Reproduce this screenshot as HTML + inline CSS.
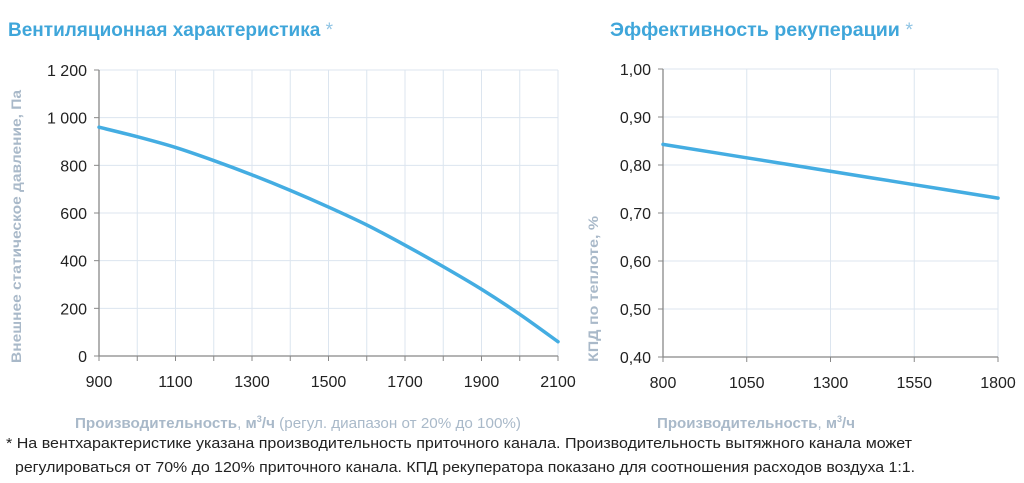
<!DOCTYPE html>
<html><head><meta charset="utf-8"><style>
html,body{margin:0;padding:0;background:#fff;width:1024px;height:483px;overflow:hidden}
svg{display:block;font-family:"Liberation Sans",sans-serif}
</style></head><body>
<svg id="s" width="1024" height="483" viewBox="0 0 1024 483">
<text x="8" y="36" font-size="19" font-weight="bold" fill="#3fa6da" textLength="325" lengthAdjust="spacingAndGlyphs">Вентиляционная характеристика <tspan font-weight="normal" fill="#8fc4e4">*</tspan></text>
<text x="610" y="36" font-size="19" font-weight="bold" fill="#3fa6da" textLength="303" lengthAdjust="spacingAndGlyphs">Эффективность рекуперации <tspan font-weight="normal" fill="#8fc4e4">*</tspan></text>
<g id="left"></g>
<g id="right"></g>
<text transform="translate(21,363) rotate(-90)" font-size="14" font-weight="bold" fill="#a9b9c9" textLength="273" lengthAdjust="spacingAndGlyphs">Внешнее статическое давление, Па</text>
<text transform="translate(598,362) rotate(-90)" font-size="14" font-weight="bold" fill="#a9b9c9" textLength="146" lengthAdjust="spacingAndGlyphs">КПД по теплоте, %</text>
<text x="75" y="428" font-size="15" fill="#a9b9c9" textLength="446" lengthAdjust="spacingAndGlyphs"><tspan font-weight="bold">Производительность</tspan>, <tspan font-weight="bold">м<tspan dy="-6" font-size="9">3</tspan><tspan dy="6">/ч</tspan></tspan> (регул. диапазон от 20% до 100%)</text>
<text x="657" y="428" font-size="15" fill="#a9b9c9" textLength="198" lengthAdjust="spacingAndGlyphs"><tspan font-weight="bold">Производительность</tspan>, <tspan font-weight="bold">м<tspan dy="-6" font-size="9">3</tspan><tspan dy="6">/ч</tspan></tspan></text>
<text x="6" y="448" font-size="14.5" fill="#222" textLength="906" lengthAdjust="spacingAndGlyphs">* На вентхарактеристике указана производительность приточного канала. Производительность вытяжного канала может</text>
<text x="15" y="472" font-size="14.5" fill="#222" textLength="900" lengthAdjust="spacingAndGlyphs">регулироваться от 70% до 120% приточного канала. КПД рекуператора показано для соотношения расходов воздуха 1:1.</text>
</svg>
<script>
const leftX=[900,1000,1100,1200,1300,1400,1500,1600,1700,1800,1900,2000,2100];
const leftY=[960,920,875,820,760,695,625,550,465,375,280,175,60];
const leftXTicks=[900,1100,1300,1500,1700,1900,2100];
const leftYTicks=[0,200,400,600,800,1000,1200];
const leftYLabels=["0","200","400","600","800","1 000","1 200"];
const rightX=[800,1050,1300,1550,1800];
const rightY=[0.843,0.815,0.787,0.759,0.731];
const rightXTicks=[800,1050,1300,1550,1800];
const rightYTicks=[0.4,0.5,0.6,0.7,0.8,0.9,1.0];
const rightYLabels=["0,40","0,50","0,60","0,70","0,80","0,90","1,00"];
const NS="http://www.w3.org/2000/svg";
function mk(p,t,a){const e=document.createElementNS(NS,t);for(const k in a)e.setAttribute(k,a[k]);p.appendChild(e);return e;}
function chart(g,o){
 const sx=v=>o.x0+(v-o.xmin)/(o.xmax-o.xmin)*(o.x1-o.x0);
 const sy=v=>o.y0-(v-o.ymin)/(o.ymax-o.ymin)*(o.y0-o.y1);
 for(let v=o.xmin;v<=o.xmax+1e-9;v+=o.gx){
  const l=mk(g,'line',{x1:sx(v),x2:sx(v),y1:o.y1,y2:o.y0,stroke:'#dce5ef','stroke-width':1});
  
  
  const t=mk(g,'line',{x1:sx(v),x2:sx(v),y1:o.y0,y2:o.y0+5,stroke:'#888','stroke-width':1});
  
  
 }
 o.yt.forEach((v,i)=>{
  const l=mk(g,'line',{x1:o.x0,x2:o.x1,y1:sy(v),y2:sy(v),stroke:'#dce5ef','stroke-width':1});
  
  
  const tk=mk(g,'line',{x1:o.x0-5,x2:o.x0,y1:sy(v),y2:sy(v),stroke:'#888','stroke-width':1});
  
  
  const t=mk(g,'text',{x:o.x0-12,y:sy(v)+6,'text-anchor':'end','font-size':16,fill:'#222'});
  t.textContent=o.yl[i];
  
  
 });
 o.xt.forEach(v=>{
  const t=mk(g,'text',{x:sx(v),y:o.y0+31,'text-anchor':'middle','font-size':16,fill:'#222'});
  t.textContent=v;
  
  
 });
 const ax=mk(g,'path',{d:`M${o.x0} ${o.y1}V${o.y0}H${o.x1}`,fill:'none',stroke:'#888','stroke-width':1.3});
 
 
 const pts=o.xs.map((x,i)=>[sx(x),sy(o.ys[i])]);
 let d='M'+pts[0].join(' ');
 for(let i=0;i<pts.length-1;i++){
  const p0=pts[Math.max(0,i-1)],p1=pts[i],p2=pts[i+1],p3=pts[Math.min(pts.length-1,i+2)];
  d+=`C${p1[0]+(p2[0]-p0[0])/6} ${p1[1]+(p2[1]-p0[1])/6} ${p2[0]-(p3[0]-p1[0])/6} ${p2[1]-(p3[1]-p1[1])/6} ${p2[0]} ${p2[1]}`;
 }
 const ln=mk(g,'path',{d:d,fill:'none',stroke:'#44ade2','stroke-width':3.5,'stroke-linecap':'round'});
 
 
}
chart(document.getElementById('left'),{x0:99,x1:558,y0:356,y1:70,xmin:900,xmax:2100,ymin:0,ymax:1200,gx:100,xs:leftX,ys:leftY,xt:leftXTicks,yt:leftYTicks,yl:leftYLabels});
chart(document.getElementById('right'),{x0:663,x1:998,y0:357,y1:69,xmin:800,xmax:1800,ymin:0.4,ymax:1.0,gx:250,xs:rightX,ys:rightY,xt:rightXTicks,yt:rightYTicks,yl:rightYLabels});
</script>
</body></html>
